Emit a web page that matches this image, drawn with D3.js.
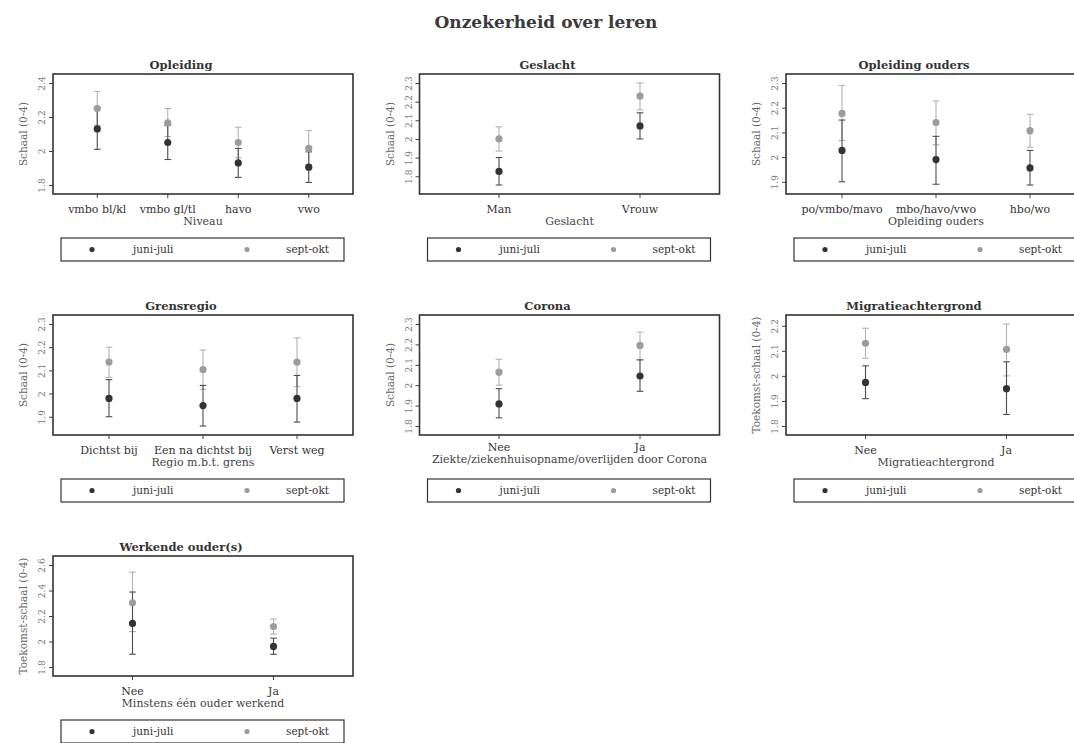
<!DOCTYPE html>
<html>
<head>
<meta charset="utf-8">
<script src="https://cdn.jsdelivr.net/npm/d3@7"></script>
<style>
  body { margin: 0; background: #fff; }
  svg { display: block; font-family: "DejaVu Serif", serif; }
</style>
</head>
<body>
<script>
// values: [mean, ci low, ci high]
const seriesNames = ["juni-juli", "sept-okt"];

const catsOpleiding = ["vmbo bl/kl", "vmbo gl/tl", "havo", "vwo"];
const ticksOpleiding = [1.8, 2, 2.2, 2.4];
const juniOpleiding = [[2.13, 2.01, 2.25], [2.05, 1.95, 2.15], [1.93, 1.845, 2.015], [1.905, 1.815, 1.995]];
const septOpleiding = [[2.25, 2.15, 2.35], [2.165, 2.085, 2.25], [2.05, 1.96, 2.14], [2.015, 1.92, 2.12]];

const catsGeslacht = ["Man", "Vrouw"];
const ticksGeslacht = [1.8, 1.9, 2, 2.1, 2.2, 2.3];
const juniGeslacht = [[1.826, 1.753, 1.9], [2.07, 2.0, 2.14]];
const septGeslacht = [[2.0, 1.935, 2.065], [2.23, 2.156, 2.3]];

const catsOuders = ["po/vmbo/mavo", "mbo/havo/vwo", "hbo/wo"];
const ticksOuders = [1.9, 2, 2.1, 2.2, 2.3];
const juniOuders = [[2.027, 1.9, 2.15], [1.99, 1.89, 2.084], [1.956, 1.887, 2.027]];
const septOuders = [[2.177, 2.067, 2.29], [2.14, 2.05, 2.227], [2.107, 2.04, 2.173]];

const catsGrens = ["Dichtst bij", "Een na dichtst bij", "Verst weg"];
const ticksGrens = [1.9, 2, 2.1, 2.2, 2.3];
const juniGrens = [[1.979, 1.9, 2.06], [1.948, 1.86, 2.035], [1.979, 1.877, 2.078]];
const septGrens = [[2.136, 2.07, 2.2], [2.103, 2.018, 2.188], [2.136, 2.03, 2.24]];

const catsCorona = ["Nee", "Ja"];
const ticksCorona = [1.8, 1.9, 2, 2.1, 2.2, 2.3];
const juniCorona = [[1.908, 1.84, 1.983], [2.045, 1.97, 2.124]];
const septCorona = [[2.064, 2.0, 2.127], [2.195, 2.126, 2.26]];

const catsMigratie = ["Nee", "Ja"];
const ticksMigratie = [1.8, 1.9, 2, 2.1, 2.2];
const juniMigratie = [[1.974, 1.909, 2.04], [1.949, 1.846, 2.056]];
const septMigratie = [[2.13, 2.07, 2.19], [2.106, 2.0, 2.207]];

const catsWerkend = ["Nee", "Ja"];
const ticksWerkend = [1.8, 2, 2.2, 2.4, 2.6];
const juniWerkend = [[2.142, 1.9, 2.388], [1.961, 1.9, 2.026]];
const septWerkend = [[2.303, 2.078, 2.544], [2.117, 2.058, 2.176]];

const panels = [
  { title: "Opleiding", xTitle: "Niveau", yTitle: "Schaal (0-4)", cats: catsOpleiding, ticks: ticksOpleiding, juni: juniOpleiding, sept: septOpleiding },
  { title: "Geslacht", xTitle: "Geslacht", yTitle: "Schaal (0-4)", cats: catsGeslacht, ticks: ticksGeslacht, juni: juniGeslacht, sept: septGeslacht },
  { title: "Opleiding ouders", xTitle: "Opleiding ouders", yTitle: "Schaal (0-4)", cats: catsOuders, ticks: ticksOuders, juni: juniOuders, sept: septOuders },
  { title: "Grensregio", xTitle: "Regio m.b.t. grens", yTitle: "Schaal (0-4)", cats: catsGrens, ticks: ticksGrens, juni: juniGrens, sept: septGrens },
  // long axis title sits tight under the tick labels in the reference
  { title: "Corona", xTitle: "Ziekte/ziekenhuisopname/overlijden door Corona", yTitle: "Schaal (0-4)", cats: catsCorona, ticks: ticksCorona, juni: juniCorona, sept: septCorona, tickPad: 4, xTitleDy: -3 },
  { title: "Migratieachtergrond", xTitle: "Migratieachtergrond", yTitle: "Toekomst-schaal (0-4)", cats: catsMigratie, ticks: ticksMigratie, juni: juniMigratie, sept: septMigratie },
  { title: "Werkende ouder(s)", xTitle: "Minstens één ouder werkend", yTitle: "Toekomst-schaal (0-4)", cats: catsWerkend, ticks: ticksWerkend, juni: juniWerkend, sept: septWerkend },
];

const W = 1074, H = 743;
const boxW = 300, boxH = 120, inset = 9;
const colors = { juni: "#333", sept: "#9c9c9c" };
const barColors = { juni: "#4d4d4d", sept: "#b3b3b3" };

const svg = d3.select("body").append("svg").attr("width", W).attr("height", H);
svg.append("rect").attr("width", W).attr("height", H).attr("fill", "#fff");

svg.append("text")
  .attr("x", 546).attr("y", 28)
  .attr("text-anchor", "middle")
  .attr("font-size", 17).attr("font-weight", "bold").attr("fill", "#3a3a3a")
  .text("Onzekerheid over leren");

const drawPanel = (p, i) => {
  const col = i % 3, row = Math.floor(i / 3);
  const left = 53 + col * 366.5;
  const top = 74 + row * 241;
  const g = svg.append("g").attr("transform", `translate(${left},${top})`);

  const allVals = p.ticks.concat(p.juni.flat(), p.sept.flat());
  const y = d3.scaleLinear().domain(d3.extent(allVals)).range([boxH - inset, inset]);
  const x = d3.scaleBand().domain(p.cats).range([inset, boxW - inset]).padding(0);
  const cx = (c) => x(c) + x.bandwidth() / 2;

  // panel title
  g.append("text")
    .attr("x", boxW / 2 - 22).attr("y", -5)
    .attr("text-anchor", "middle")
    .attr("font-size", 11.5).attr("font-weight", "bold").attr("fill", "#333")
    .text(p.title);

  // y axis, labels turned vertical
  const yAxis = g.append("g")
    .call(d3.axisLeft(y).tickValues(p.ticks).tickSize(4).tickFormat((d) => String(d)));
  yAxis.select(".domain").remove();
  yAxis.selectAll(".tick line").attr("stroke", "#444");
  yAxis.selectAll(".tick text")
    .attr("x", 0).attr("y", -8).attr("dy", 0)
    .attr("transform", "rotate(-90)")
    .attr("text-anchor", "middle")
    .attr("font-family", "DejaVu Serif").attr("font-size", 9).attr("fill", "#777");

  g.append("text")
    .attr("transform", `translate(-26,${boxH / 2}) rotate(-90)`)
    .attr("text-anchor", "middle")
    .attr("font-size", 10.5).attr("fill", "#666")
    .text(p.yTitle);

  // x axis
  const xAxis = g.append("g")
    .attr("transform", `translate(0,${boxH})`)
    .call(d3.axisBottom(x).tickSize(4).tickPadding(p.tickPad || 7));
  xAxis.select(".domain").remove();
  xAxis.selectAll(".tick line").attr("stroke", "#444");
  xAxis.selectAll(".tick text")
    .attr("font-family", "DejaVu Serif").attr("font-size", 11).attr("fill", "#333");

  g.append("text")
    .attr("x", boxW / 2).attr("y", boxH + 31 + (p.xTitleDy || 0))
    .attr("text-anchor", "middle")
    .attr("font-size", 11).attr("fill", "#444")
    .text(p.xTitle);

  // error bars
  const cap = 3.3;
  [["sept", p.sept], ["juni", p.juni]].forEach(([key, vals]) => {
    const bars = g.append("g").attr("stroke", barColors[key]).attr("stroke-width", 1.1);
    vals.forEach((v, j) => {
      const xx = cx(p.cats[j]);
      bars.append("line").attr("x1", xx).attr("x2", xx).attr("y1", y(v[1])).attr("y2", y(v[2]));
      bars.append("line").attr("x1", xx - cap).attr("x2", xx + cap).attr("y1", y(v[1])).attr("y2", y(v[1]));
      bars.append("line").attr("x1", xx - cap).attr("x2", xx + cap).attr("y1", y(v[2])).attr("y2", y(v[2]));
    });
  });

  // markers
  [["juni", p.juni], ["sept", p.sept]].forEach(([key, vals]) => {
    g.append("g").selectAll("circle")
      .data(vals)
      .enter()
      .append("circle")
      .attr("cx", (d, j) => cx(p.cats[j]))
      .attr("cy", (d) => y(d[0]))
      .attr("r", 3.6)
      .attr("fill", colors[key]);
  });

  // plot frame
  g.append("rect")
    .attr("width", boxW).attr("height", boxH)
    .attr("fill", "none").attr("stroke", "#333").attr("stroke-width", 1.6);

  // legend
  const lg = g.append("g").attr("transform", `translate(8,${boxH + 44})`);
  lg.append("rect").attr("width", boxW - 17).attr("height", 23)
    .attr("fill", "#fff").attr("stroke", "#333").attr("stroke-width", 1.2);
  const items = [{ key: "juni", dot: 31, txt: 72 }, { key: "sept", dot: 186, txt: 225 }];
  items.forEach((it, k) => {
    lg.append("circle").attr("cx", it.dot).attr("cy", 11.5).attr("r", 2.6).attr("fill", colors[it.key]);
    lg.append("text").attr("x", it.txt).attr("y", 15)
      .attr("font-size", 10.5).attr("fill", "#333")
      .text(seriesNames[k]);
  });
};

panels.forEach(drawPanel);
</script>
</body>
</html>
